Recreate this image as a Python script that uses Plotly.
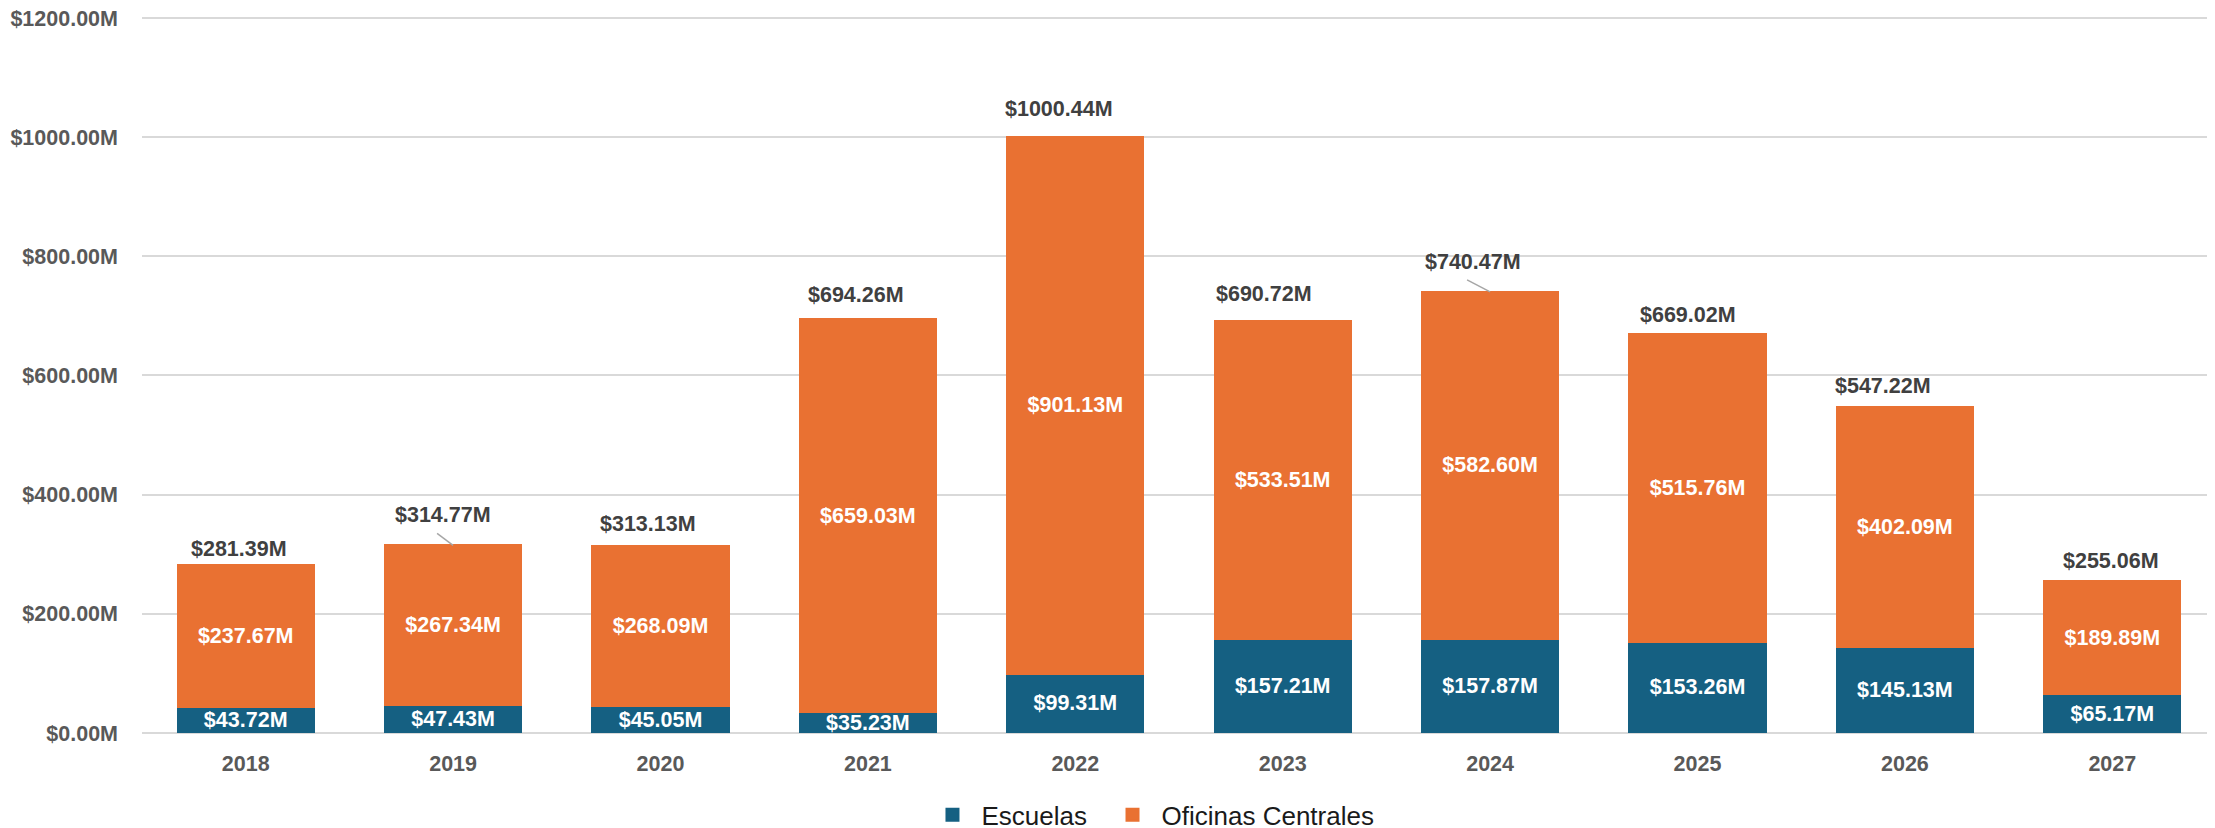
import plotly.graph_objects as go

years = ["2018", "2019", "2020", "2021", "2022", "2023", "2024", "2025", "2026", "2027"]
escuelas = [43.72, 47.43, 45.05, 35.23, 99.31, 157.21, 157.87, 153.26, 145.13, 65.17]
oficinas = [237.67, 267.34, 268.09, 659.03, 901.13, 533.51, 582.60, 515.76, 402.09, 189.89]
totals = [281.39, 314.77, 313.13, 694.26, 1000.44, 690.72, 740.47, 669.02, 547.22, 255.06]
y_ticks = [0, 200, 400, 600, 800, 1000, 1200]

# label placement tweaks (pixels) for the total labels, and which have leader lines
label_dx = [-7, -10, -13, -12, -16, -19, -17, -10, -22, -1]
label_dy = [16, 30, 22, 24, 28, 27, 30, 19, 21, 20]
leader = [False, True, False, False, False, False, True, False, False, False]

BLUE = "#156082"
ORANGE = "#E97132"
FONT = "Liberation Sans"
LBL = 21.5

xpos = list(range(len(years)))

fig = go.Figure()
fig.add_trace(go.Bar(
    x=xpos, y=escuelas, name="Escuelas", legend="legend",
    marker=dict(color=BLUE, line=dict(color=BLUE, width=2)),
    texttemplate="$%{y:.2f}M", textposition="inside", insidetextanchor="middle",
    textangle=0, constraintext="none", cliponaxis=False,
    textfont=dict(family=FONT, size=LBL, color="white", weight="bold"),
))
fig.add_trace(go.Bar(
    x=xpos, y=oficinas, name="Oficinas Centrales", legend="legend2",
    marker=dict(color=ORANGE, line=dict(color=ORANGE, width=2)),
    texttemplate="$%{y:.2f}M", textposition="inside", insidetextanchor="middle",
    textangle=0, constraintext="none", cliponaxis=False,
    textfont=dict(family=FONT, size=LBL, color="white", weight="bold"),
))

for i, t in enumerate(totals):
    fig.add_annotation(
        x=i, y=t, text=f"${t:.2f}M", showarrow=False,
        xshift=label_dx[i], yshift=label_dy[i], yanchor="middle", xanchor="center",
        font=dict(family=FONT, size=LBL, color="#404040", weight="bold"),
    )
    if leader[i]:
        fig.add_shape(
            type="line", xref="x", yref="y",
            xsizemode="pixel", ysizemode="pixel", xanchor=i, yanchor=t,
            x0=0, y0=0, x1=label_dx[i] - 6, y1=12,
            line=dict(color="#A6A6A6", width=1.5),
        )

legend_common = dict(
    orientation="h", xanchor="left",
    yref="container", y=0.0254, yanchor="middle",
    font=dict(family=FONT, size=26, color="#1a1a1a"),
    itemwidth=48, bgcolor="rgba(0,0,0,0)",
)

fig.update_layout(
    barmode="stack",
    bargap=0.344,
    width=2215, height=828,
    margin=dict(l=134, r=7, t=7, b=103, autoexpand=False),
    plot_bgcolor="white", paper_bgcolor="white",
    showlegend=True,
    legend=dict(x=0.3768, **legend_common),
    legend2=dict(x=0.4636, **legend_common),
    xaxis=dict(
        range=[-0.5, len(years) - 0.5], tickvals=xpos, ticktext=years,
        showgrid=False, zeroline=False, showline=False, automargin=False,
        tickfont=dict(family=FONT, size=LBL, color="#595959", weight="bold"),
        ticklabelstandoff=15,
    ),
    yaxis=dict(
        range=[0, 1205], tickvals=y_ticks, automargin=False,
        ticktext=[f"${v:.2f}M" for v in y_ticks], ticklabeloverflow="allow",
        showgrid=True, gridcolor="#D9D9D9", gridwidth=1.5,
        zeroline=True, zerolinecolor="#D9D9D9", zerolinewidth=2,
        showline=False,
        tickfont=dict(family=FONT, size=LBL, color="#595959", weight="bold"),
        ticklabelstandoff=23,
    ),
)

fig.write_html("out.html")
